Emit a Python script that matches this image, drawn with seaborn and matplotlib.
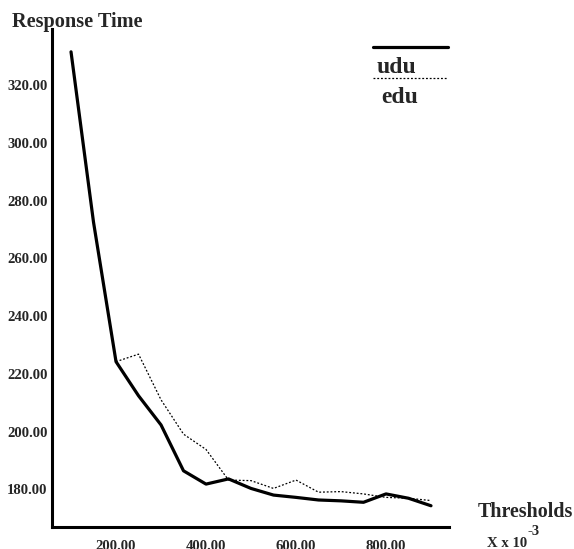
import matplotlib
matplotlib.use("Agg")
import matplotlib.pyplot as plt
from matplotlib.lines import Line2D
import seaborn as sns
import pandas as pd

# ---- data ----
x_udu = [100, 150, 200, 250, 300, 350, 400, 450, 500, 550, 600, 650, 700, 750, 800, 850, 900]
udu = [331.5, 272.5, 224.2, 212.4, 202.3, 186.4, 181.8, 183.6, 180.3, 178.0, 177.2, 176.3,
       176.0, 175.5, 178.4, 176.9, 174.3]
x_edu = [200, 250, 300, 350, 400, 450, 500, 550, 600, 650, 700, 750, 800, 850, 900]
edu = [224.2, 226.8, 211.0, 199.1, 193.8, 183.2, 183.0, 180.3, 183.2, 179.0, 179.2, 178.4,
       177.2, 176.9, 176.1]
x_ticks = [200, 400, 600, 800]
y_ticks = [180, 200, 220, 240, 260, 280, 300, 320]

sns.set_style("white")
plt.rcParams["font.family"] = ["Liberation Serif", "DejaVu Serif"]
plt.rcParams["font.weight"] = "bold"

df_udu = pd.DataFrame({"Thresholds": x_udu, "Response Time": udu})
df_edu = pd.DataFrame({"Thresholds": x_edu, "Response Time": edu})

fig = plt.figure(figsize=(5.74, 5.49), dpi=100)
ax = fig.add_axes([52.3 / 574, 21.7 / 549, (449 - 52.3) / 574, (527.3 - 29.3) / 549])

sns.lineplot(data=df_edu, x="Thresholds", y="Response Time", ax=ax, color="black",
             linewidth=0.9, linestyle=(0, (1.5, 1.5)))
sns.lineplot(data=df_udu, x="Thresholds", y="Response Time", ax=ax, color="black",
             linewidth=2.3)

ax.set_xlim(58.4, 940)
ax.set_ylim(166.84, 339.3)
ax.set_xticks(x_ticks)
ax.set_yticks(y_ticks)
ax.set_xticklabels([f"{v:.2f}" for v in x_ticks], fontsize=10.6, fontweight="bold")
ax.set_yticklabels([f"{v:.2f}" for v in y_ticks], fontsize=10.6, fontweight="bold")
ax.set_xlabel("")
ax.set_ylabel("")
for s in ["top", "right"]:
    ax.spines[s].set_visible(False)
for s in ["left", "bottom"]:
    ax.spines[s].set_linewidth(2.2)
    ax.spines[s].set_color("black")
ax.tick_params(axis="both", direction="in", length=7.5, width=2.2, color="black")
ax.tick_params(axis="y", pad=3.3)
ax.tick_params(axis="x", pad=9)

# titles
fig.text(11.7 / 574, (549 - 27.3) / 549, "Response Time", fontsize=14.6,
         fontweight="bold", va="baseline", ha="left")
fig.text(478 / 574, (549 - 517.3) / 549, "Thresholds", fontsize=14.4,
         fontweight="bold", va="baseline", ha="left")
fig.text(487 / 574, (549 - 546.7) / 549, "X x 10", fontsize=10.6,
         fontweight="bold", va="baseline", ha="left")
fig.text(527 / 574, (549 - 535) / 549, "-3", fontsize=10.6,
         fontweight="bold", va="baseline", ha="left")

# legend (line above label)
fig.add_artist(Line2D([373.3 / 574, 448.3 / 574], [(549 - 47.3) / 549] * 2,
                      transform=fig.transFigure, color="black", linewidth=2.3))
fig.text(377 / 574, (549 - 73.3) / 549, "udu", fontsize=17, fontweight="bold",
         va="baseline", ha="left")
fig.add_artist(Line2D([373.3 / 574, 448.3 / 574], [(549 - 78.3) / 549] * 2,
                      transform=fig.transFigure, color="black", linewidth=0.9,
                      linestyle=(0, (1.5, 1.5))))
fig.text(381.7 / 574, (549 - 103.3) / 549, "edu", fontsize=17, fontweight="bold",
         va="baseline", ha="left")

fig.savefig("out.png", dpi=100)
